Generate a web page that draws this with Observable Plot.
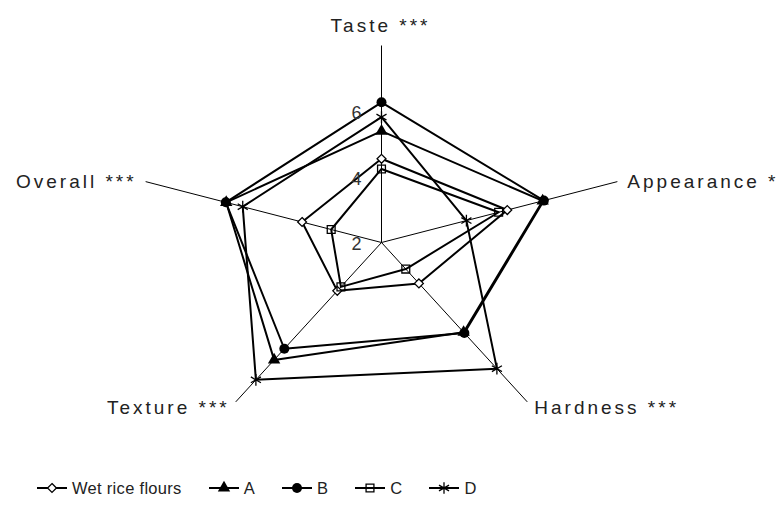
<!DOCTYPE html>
<html><head><meta charset="utf-8">
<script src="https://cdn.jsdelivr.net/npm/d3@7"></script>
<script src="https://cdn.jsdelivr.net/npm/@observablehq/plot@0.6"></script>
<style>
html,body{margin:0;padding:0;background:#fff;width:778px;height:509px;overflow:hidden;}
#chart{position:absolute;left:0;top:0;}
#chart svg .catlab text, #chart svg text.catlab{letter-spacing:3px}
#legend{position:absolute;left:37px;top:476px;height:24px;display:flex;align-items:center;font-family:"Liberation Sans",Arial,sans-serif;font-size:16.5px;letter-spacing:0.3px;color:#222;white-space:nowrap;}
.item{display:flex;align-items:center;margin-right:27px}
.item svg{margin-right:5px;overflow:visible}
</style></head><body>
<div id="chart"></div><div id="legend"></div>
<script>
// ---- data ----
const categories = ["Taste ***", "Appearance *", "Hardness ***", "Texture ***", "Overall ***"];
const seriesNames = ["Wet rice flours", "A", "B", "C", "D"];
const wetRice = [4.55, 5.20, 3.54, 3.82, 4.02];
const seriesA = [5.39, 6.10, 5.38, 6.42, 5.95];
const seriesB = [6.27, 6.13, 5.41, 6.00, 5.96];
const seriesC = [4.24, 4.98, 3.00, 3.67, 3.28];
const seriesD = [5.82, 4.16, 6.75, 7.17, 5.53];
const tickValues = [2, 4, 6];
const scaleMin = 2, scaleMax = 8;

// ---- build ----
const seriesValues = [wetRice, seriesA, seriesB, seriesC, seriesD];
const n = categories.length;
const ang = i => i * 2 * Math.PI / n;
const rho = v => (v - scaleMin) / (scaleMax - scaleMin);

const styles = [
  {symbol: "diamond2", r: 4, fill: "white", stroke: "black", strokeWidth: 1.3},
  {symbol: "triangle", r: 4.6, fill: "black", stroke: "none"},
  {symbol: "circle", r: 5, fill: "black", stroke: "none"},
  {symbol: "square2", r: 5, fill: "none", stroke: "black", strokeWidth: 1.3},
  {symbol: "asterisk", r: 5.5, fill: "none", stroke: "black", strokeWidth: 1.3}
];

const rows = seriesValues.map((vals, s) => vals.map((v, i) => ({
  series: seriesNames[s], category: categories[i], value: v,
  x: rho(v) * Math.sin(ang(i)), y: rho(v) * Math.cos(ang(i))
})));

const spokes = categories.map((c, i) => ({category: c, x: Math.sin(ang(i)), y: Math.cos(ang(i)), i}));

const marks = [
  Plot.link(spokes, {x1: 0, y1: 0, x2: "x", y2: "y", stroke: "black", strokeWidth: 1})
];
rows.forEach((r, s) => {
  marks.push(Plot.line(r, {x: "x", y: "y", curve: "linear-closed", stroke: "black", strokeWidth: 2}));
  marks.push(Plot.dot(r, {x: "x", y: "y", ...styles[s]}));
});
marks.push(Plot.text(tickValues, {x: 0, y: v => rho(v), text: d => String(d), dx: -25, dy: 2, fontSize: 18, fill: "#333"}));

const labFont = {fontSize: 19, fill: "#222", className: "catlab"};
marks.push(Plot.text(spokes.filter(d => d.i === 0), {x: "x", y: "y", text: "category", textAnchor: "middle", dy: -20, dx: -1, ...labFont}));
marks.push(Plot.text(spokes.filter(d => d.i === 1), {x: "x", y: "y", text: "category", textAnchor: "start", dx: 10, dy: 0, ...labFont}));
marks.push(Plot.text(spokes.filter(d => d.i === 2), {x: "x", y: "y", text: "category", textAnchor: "start", dx: 7, dy: 6, ...labFont}));
marks.push(Plot.text(spokes.filter(d => d.i === 3), {x: "x", y: "y", text: "category", textAnchor: "end", dx: -6, dy: 6, ...labFont}));
marks.push(Plot.text(spokes.filter(d => d.i === 4), {x: "x", y: "y", text: "category", textAnchor: "end", dx: -9, dy: 0, ...labFont}));

const plot = Plot.plot({
  width: 778, height: 460, margin: 0,
  x: {domain: [-1, 1], range: [133, 629], axis: null},
  y: {domain: [-1, 1], range: [439, 45], axis: null},
  style: {fontFamily: "'Liberation Sans', Arial, sans-serif", background: "white", overflow: "visible"},
  marks
});
document.getElementById("chart").appendChild(plot);

// ---- legend ----
const symMap = {diamond2: d3.symbolDiamond2, triangle: d3.symbolTriangle, circle: d3.symbolCircle, square2: d3.symbolSquare2, asterisk: d3.symbolAsterisk};
const leg = document.getElementById("legend");
seriesNames.forEach((name, s) => {
  const st = styles[s];
  const item = document.createElement("div");
  item.className = "item";
  const path = d3.symbol(symMap[st.symbol], st.r * st.r * Math.PI)();
  const svg = d3.create("svg").attr("width", 30).attr("height", 14);
  svg.append("line").attr("x1", 0).attr("x2", 30).attr("y1", 7).attr("y2", 7).attr("stroke", "black").attr("stroke-width", 2);
  svg.append("path").attr("d", path).attr("transform", "translate(15,7)")
    .attr("fill", st.fill).attr("stroke", st.stroke).attr("stroke-width", st.strokeWidth || 0);
  item.appendChild(svg.node());
  const t = document.createElement("span");
  t.textContent = name;
  item.appendChild(t);
  leg.appendChild(item);
});
</script>
</body></html>
